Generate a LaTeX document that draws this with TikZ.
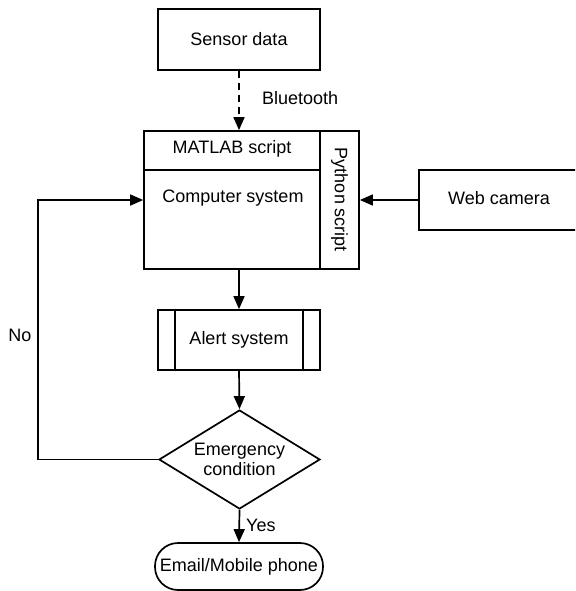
\documentclass[tikz,border=0pt]{standalone}
\usepackage{fontspec}
\setmainfont{Liberation Sans}
\usetikzlibrary{arrows.meta,shapes.geometric,positioning}
\begin{document}
\begin{tikzpicture}[x=1pt,y=-1pt,
  every node/.style={font=\fontsize{18}{21}\selectfont, inner sep=0pt},
  box/.style={draw, line width=1.7pt, rectangle},
  arr/.style={line width=1.7pt, -{Triangle[length=13pt,width=11pt]}},
]
\useasboundingbox (0,0) rectangle (575,591);
\clip (0,0) rectangle (575,591);
% Sensor data
\node[box, minimum width=162pt, minimum height=61pt] (sensor) at (239,39.5) {Sensor data};
% Computer system block
\node[box, minimum width=215pt, minimum height=138pt] (comp) at (251.5,200) {};
\coordinate (vtop) at (320,131);
\coordinate (vbot) at (320,269);
\coordinate (hl) at (144,170);
\coordinate (hr) at (320,170);
\draw[line width=1.7pt] (vtop) -- (vbot);
\draw[line width=1.7pt] (hl) -- (hr);
\node (matlab) at (232,149) {MATLAB script};
\node (compsys) at (233,198) {Computer system};
\node[rotate=-90] (python) at (339.5,200) {Python script};
% Web camera
\node[box, minimum width=160pt, minimum height=60pt] (cam) at (499,200) {};
\node (camtxt) at (499,198) {Web camera};
% Alert system
\node[box, minimum width=162pt, minimum height=60pt] (alert) at (239,340) {Alert system};
\coordinate (al1) at (175,310);
\coordinate (al2) at (175,370);
\coordinate (ar1) at (303,310);
\coordinate (ar2) at (303,370);
\draw[line width=1.7pt] (al1) -- (al2) (ar1) -- (ar2);
% Decision
\node[draw, line width=1.7pt, diamond, aspect=1.62, minimum width=161pt, minimum height=99pt, align=center] (dec) at (239.5,459.5) {Emergency\\[-1pt]condition};
% Terminal
\node[draw, line width=1.7pt, rounded corners=23pt, minimum width=168pt, minimum height=47pt] (term) at (239,566.5) {Email/Mobile phone};
% connectors
\draw[line width=1.7pt, dashed, dash pattern=on 7pt off 5pt, -{Triangle[length=13pt,width=11pt]}] (sensor.south) -- (comp.north -| sensor.south);
\node[anchor=west] (bt) at (262,98) {Bluetooth};
\draw[arr] (cam.west) -- (comp.east);
\draw[arr] (comp.south -| alert.north) -- (alert.north);
\draw[arr] (alert.south) -- (dec.north);
\draw[arr] (dec.south) -- (term.north);
\node[anchor=west] (yes) at (246,525) {Yes};
\coordinate (lb) at (38,459.5);
\coordinate (lt) at (38,200);
\draw[arr] (dec.west) -- (lb) -- (lt) -- (comp.west);
\node (no) at (20,335) {No};
\end{tikzpicture}
\end{document}
